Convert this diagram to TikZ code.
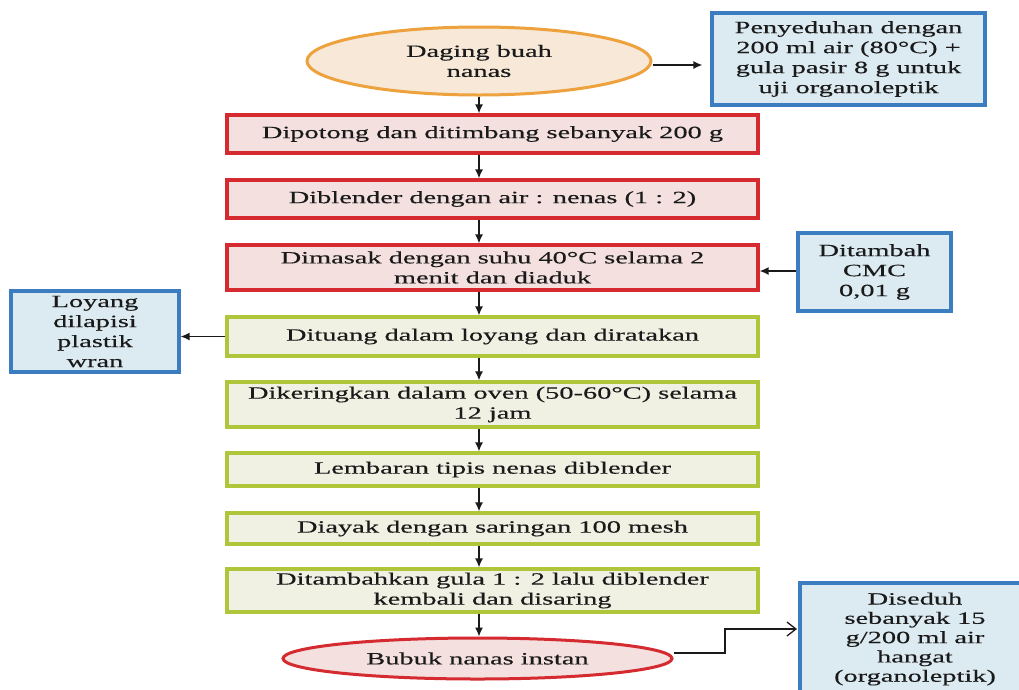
\documentclass[tikz,border=0pt]{standalone}
\usepackage{fontspec}
\setmainfont{Liberation Serif}[FakeStretch=1.65,FakeBold=0.35]
\usetikzlibrary{shapes.geometric,arrows.meta}
\definecolor{redline}{HTML}{D42A30}
\definecolor{redfill}{HTML}{F3E0DF}
\definecolor{grnline}{HTML}{B0C63A}
\definecolor{grnfill}{HTML}{F0F0E3}
\definecolor{bluline}{HTML}{3B7DC0}
\definecolor{blufill}{HTML}{DCEAF1}
\definecolor{orline}{HTML}{EEA23E}
\definecolor{orfill}{HTML}{F7E8D8}
\definecolor{ink}{HTML}{1A1A1A}
\begin{document}
\begin{tikzpicture}[x=1pt,y=-1pt,
  every node/.style={font=\fontsize{17.2}{20}\selectfont, text=ink, align=center, inner sep=0pt},
  stepbox/.style={rectangle, draw, line width=3.2pt, minimum width=531pt},
  redbox/.style={stepbox, draw=redline, fill=redfill},
  grnbox/.style={stepbox, draw=grnline, fill=grnfill},
  notebox/.style={rectangle, draw=bluline, fill=blufill, line width=3.2pt},
  arr/.style={draw=ink, line width=1.4pt, -{Latex[length=9pt,width=8pt]}},
  openarr/.style={draw=ink, line width=1.3pt, -{Straight Barb[length=9pt,width=14pt]}}
]
\useasboundingbox (0,0) rectangle (1019,689);
\fill[white] (0,0) rectangle (1019,689);

\node[ellipse, draw=orline, fill=orfill, line width=3pt, minimum width=344pt, minimum height=68pt] (E1) at (479,61) {Daging buah\\nanas};
\node[notebox, minimum width=273pt, minimum height=92pt] (B0) at (848.5,59) {Penyeduhan dengan\\200 ml air (80°C) +\\gula pasir 8 g untuk\\uji organoleptik};
\node[redbox, minimum height=38pt] (R1) at (492.5,134) {Dipotong dan ditimbang sebanyak 200 g};
\node[redbox, minimum height=38pt] (R2) at (492.5,199) {Diblender dengan air : nenas (1 : 2)};
\node[redbox, minimum height=45pt] (R3) at (492.5,267.5) {Dimasak dengan suhu 40°C selama 2\\menit dan diaduk};
\node[notebox, minimum width=153pt, minimum height=78pt] (CMC) at (874.5,272) {Ditambah\\CMC\\0,01 g};
\node[grnbox, minimum height=39pt] (G1) at (492.5,336.5) {Dituang dalam loyang dan diratakan};
\node[notebox, minimum width=168pt, minimum height=81pt] (L) at (95,331.5) {Loyang\\dilapisi\\plastik\\wran};
\node[grnbox, minimum height=45pt] (G2) at (492.5,404.5) {Dikeringkan dalam oven (50-60°C) selama\\12 jam};
\node[grnbox, minimum height=33pt] (G3) at (492.5,469.5) {Lembaran tipis nenas diblender};
\node[grnbox, minimum height=31pt] (G4) at (492.5,528.5) {Diayak dengan saringan 100 mesh};
\node[grnbox, minimum height=43pt] (G5) at (492.5,590.5) {Ditambahkan gula 1 : 2 lalu diblender\\kembali dan disaring};
\node[ellipse, draw=redline, fill=redfill, line width=3pt, minimum width=389pt, minimum height=41pt] (E2) at (477.5,658.5) {Bubuk nanas instan};
\node[notebox, minimum width=230pt, minimum height=112pt, font=\fontsize{17.2}{19.3}\selectfont] (D) at (915,639) {Diseduh\\sebanyak 15\\g/200 ml air\\hangat\\(organoleptik)};

\coordinate (Dt) at (800,629);
\coordinate (K1) at (725,653);

% vertical flow
\draw[arr] (E1.south) -- (E1.south |- R1.north);
\draw[arr] (R1.south -| E1.south) -- (R2.north -| E1.south);
\draw[arr] (R2.south -| E1.south) -- (R3.north -| E1.south);
\draw[arr] (R3.south -| E1.south) -- (G1.north -| E1.south);
\draw[arr] (G1.south -| E1.south) -- (G2.north -| E1.south);
\draw[arr] (G2.south -| E1.south) -- (G3.north -| E1.south);
\draw[arr] (G3.south -| E1.south) -- (G4.north -| E1.south);
\draw[arr] (G4.south -| E1.south) -- (G5.north -| E1.south);
\draw[arr] (G5.south -| E1.south) -- (E2.north -| E1.south);

% side connectors
\draw[arr, shorten >=8pt] ([yshift=-4pt]E1.east) -- ([yshift=-4pt]E1.east -| B0.west);
\draw[arr] (CMC.west |- 0,271) -- (R3.east |- 0,271);
\draw[arr] (G1.west) -- (G1.west -| L.east);
\draw[openarr, shorten >=3pt] (E2.east |- K1) -- (K1) |- (Dt);
\end{tikzpicture}
\end{document}
